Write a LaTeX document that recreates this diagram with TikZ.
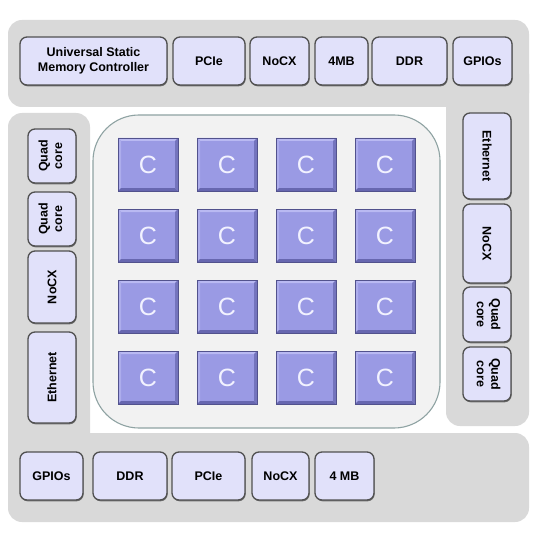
\documentclass[tikz,border=0pt]{standalone}
\usepackage{fontspec}
\setmainfont{Liberation Sans}
\usetikzlibrary{shadows}
\definecolor{panel}{HTML}{D9D9D9}
\definecolor{lav}{HTML}{E1E1FA}
\definecolor{bordc}{HTML}{505050}
\definecolor{framec}{HTML}{8FA3A3}
\definecolor{framefill}{HTML}{F2F2F2}
\definecolor{cfill}{HTML}{9A9AE4}
\definecolor{clight}{HTML}{B9B9F2}
\definecolor{cdark}{HTML}{6767B0}
\definecolor{ctext}{HTML}{F2F2FF}
\tikzset{
  lbox/.style={draw=bordc, line width=1.3pt, fill=lav, rounded corners=7pt,
    inner sep=0pt, align=center, font=\fontsize{12.5}{14.5}\selectfont\bfseries,
    drop shadow={shadow xshift=0.6pt, shadow yshift=-1.3pt, fill=black!60, opacity=0.9}},
  cbox/.style={minimum width=60pt, minimum height=53pt, inner sep=0pt,
    fill=cfill, draw=cdark!80!black, line width=0.5pt, text=ctext,
    font=\fontsize{25}{25}\selectfont,
    path picture={
      \coordinate (nw) at (path picture bounding box.north west);
      \coordinate (ne) at (path picture bounding box.north east);
      \coordinate (sw) at (path picture bounding box.south west);
      \coordinate (se) at (path picture bounding box.south east);
      \fill[clight] (nw) -- (ne) -- ([shift={(-3pt,-3pt)}]ne) -- ([shift={(3pt,-3pt)}]nw) -- cycle;
      \fill[clight!60!cfill] (nw) -- ([shift={(3pt,-3pt)}]nw) -- ([shift={(3pt,3pt)}]sw) -- (sw) -- cycle;
      \fill[cdark] (sw) -- (se) -- ([shift={(-3pt,3pt)}]se) -- ([shift={(3pt,3pt)}]sw) -- cycle;
      \fill[cdark!75!cfill] (se) -- (ne) -- ([shift={(-3pt,-3pt)}]ne) -- ([shift={(-3pt,3pt)}]se) -- cycle;
    }},
}
\newcommand{\twoline}[2]{\begin{tabular}{@{}c@{}}#1\\#2\end{tabular}}
\begin{document}
\begin{tikzpicture}[x=1pt,y=-1pt]
\useasboundingbox[fill=white] (0,0) rectangle (540,540);
% grey panels
\fill[panel, rounded corners=14pt] (8,20) rectangle (529,107);
\fill[panel, rounded corners=14pt] (446,60) rectangle (529,426);
\fill[panel, rounded corners=14pt] (8,113) rectangle (90,480);
\fill[panel, rounded corners=14pt] (8,433) rectangle (529,522);
% inner frame
\draw[framec, fill=framefill, line width=1.1pt, rounded corners=46pt] (93,115) rectangle (440,428);
% top row
\node[lbox, minimum width=147pt, minimum height=48pt] (usmc) at (93.5,61) {Universal Static\\Memory Controller};
\node[lbox, minimum width=72pt, minimum height=48pt] (tpcie) at (209,61) {PCIe};
\node[lbox, minimum width=59pt, minimum height=48pt] (tnocx) at (279.5,61) {NoCX};
\node[lbox, minimum width=53pt, minimum height=48pt] (tmb) at (341.5,61) {4MB};
\node[lbox, minimum width=75pt, minimum height=48pt] (tddr) at (409.5,61) {DDR};
\node[lbox, minimum width=59pt, minimum height=48pt] (tgpio) at (482.5,61) {GPIOs};
% bottom row
\node[lbox, minimum width=63pt, minimum height=48pt] (bgpio) at (51.5,476) {GPIOs};
\node[lbox, minimum width=74pt, minimum height=48pt] (bddr) at (130,476) {DDR};
\node[lbox, minimum width=73pt, minimum height=48pt] (bpcie) at (208.5,476) {PCIe};
\node[lbox, minimum width=57pt, minimum height=48pt] (bnocx) at (280.5,476) {NoCX};
\node[lbox, minimum width=59pt, minimum height=48pt] (bmb) at (344.5,476) {4 MB};
% left column
\node[lbox, minimum width=48pt, minimum height=54pt] (lq1) at (52,156) {\rotatebox{90}{\twoline{Quad}{core}}};
\node[lbox, minimum width=48pt, minimum height=54pt] (lq2) at (52,219) {\rotatebox{90}{\twoline{Quad}{core}}};
\node[lbox, minimum width=48pt, minimum height=72pt] (lnocx) at (52,287) {\rotatebox{90}{NoCX}};
\node[lbox, minimum width=48pt, minimum height=91pt] (leth) at (52,377.5) {\rotatebox{90}{Ethernet}};
% right column
\node[lbox, minimum width=48pt, minimum height=86pt] (reth) at (487,156) {\rotatebox{-90}{Ethernet}};
\node[lbox, minimum width=48pt, minimum height=79pt] (rnocx) at (487,243.5) {\rotatebox{-90}{NoCX}};
\node[lbox, minimum width=48pt, minimum height=55pt] (rq1) at (487,314.5) {\rotatebox{-90}{\twoline{Quad}{core}}};
\node[lbox, minimum width=48pt, minimum height=54pt] (rq2) at (487,374) {\rotatebox{-90}{\twoline{Quad}{core}}};
% cores
\foreach \i/\x in {1/148,2/227,3/306,4/385}
  \foreach \j/\y in {1/164.5,2/235.5,3/306.5,4/377.5}
    \node[cbox] (c\i\j) at (\x,\y) {C};
\end{tikzpicture}
\end{document}
